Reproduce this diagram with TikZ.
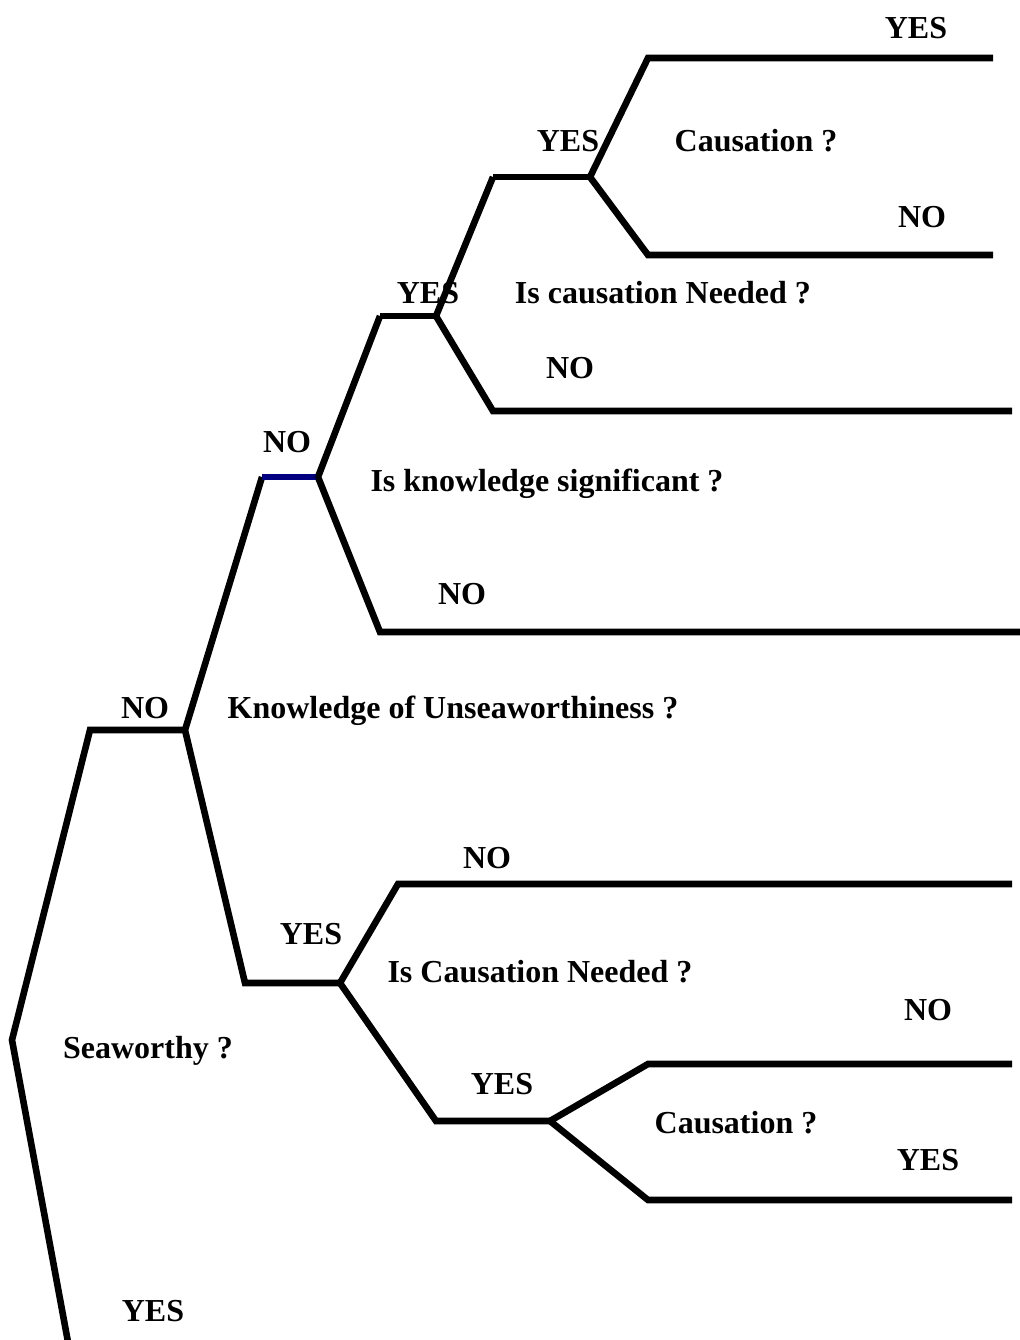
\documentclass[tikz,border=0pt]{standalone}
\usepackage{fontspec}
\setmainfont{Liberation Serif}
\usetikzlibrary{positioning}

\begin{document}
\begin{tikzpicture}[x=0.5pt,y=-0.5pt]
		\tikzset{
			branch/.style={line width=3.3pt, line cap=butt},
			lbl/.style={inner sep=0pt, text height=0.66em, text depth=0pt, yshift=-2pt},
			every node/.style={font=\fontsize{16}{18}\selectfont\bfseries}
		}
		\definecolor{navyline}{RGB}{0,0,128}
		\useasboundingbox (0,0) rectangle (1020,1340);
		
		% Branch points
		\coordinate (sea) at (12,1040);
		\coordinate (seaYes) at (68,1342);
		\coordinate (seaNo) at (90,730);
		\coordinate (know) at (185,730);
		\coordinate (knowNo) at (262,477);
		\coordinate (sig) at (318,477);
		\coordinate (knowYes) at (245,983);
		\coordinate (needB) at (340,983);
		
		% Upper part
		\coordinate (sigNo) at (380,632);
		\coordinate (sigNoEnd) at (1020,632);
		\coordinate (sigYes) at (380,316);
		\coordinate (need) at (436,316);
		\coordinate (needNo) at (493,411);
		\coordinate (needNoEnd) at (1012,411);
		\coordinate (needYes) at (493,177);
		\coordinate (caus) at (590,177);
		\coordinate (causYes) at (648,58);
		\coordinate (causYesEnd) at (993,58);
		\coordinate (causNo) at (648,255);
		\coordinate (causNoEnd) at (993,255);
		
		% Lower part
		\coordinate (needBNo) at (398,884);
		\coordinate (needBNoEnd) at (1012,884);
		\coordinate (needBYes) at (436,1121);
		\coordinate (causB) at (550,1121);
		\coordinate (causBNo) at (648,1064);
		\coordinate (causBNoEnd) at (1012,1064);
		\coordinate (causBYes) at (648,1200);
		\coordinate (causBYesEnd) at (1012,1200);
		
		% Draw the tree
		\draw[branch] (seaYes) -- (sea) -- (seaNo) -- (know);
		\draw[branch] (knowNo) -- (know) -- (knowYes) -- (needB);
		\draw[branch, navyline] (knowNo) -- (sig);
		\draw[branch] (sigYes) -- (sig) -- (sigNo) -- (sigNoEnd);
		\draw[branch] (sigYes) -- (need);
		\draw[branch] (needYes) -- (need) -- (needNo) -- (needNoEnd);
		\draw[branch] (needYes) -- (caus);
		\draw[branch] (causYesEnd) -- (causYes) -- (caus) -- (causNo) -- (causNoEnd);
		\draw[branch] (needBNoEnd) -- (needBNo) -- (needB) -- (needBYes) -- (causB);
		\draw[branch] (causBNoEnd) -- (causBNo) -- (causB) -- (causBYes) -- (causBYesEnd);
		
		% Questions
		\node[lbl] (qSea) at (148,1048) {Seaworthy ?};
		\node[lbl] (qKnow) at (453,708) {Knowledge of Unseaworthiness ?};
		\node[lbl] (qSig) at (547,481) {Is knowledge significant ?};
		\node[lbl] (qNeed) at (663,293) {Is causation Needed ?};
		\node[lbl] (qCaus) at (756,141) {Causation ?};
		\node[lbl] (qNeedB) at (540,972) {Is Causation Needed ?};
		\node[lbl] (qCausB) at (736,1123) {Causation ?};
		
		% Answers
		\node[lbl] (aSeaYes) at (153,1311) {YES};
		\node[lbl] (aSeaNo) at (145,708) {NO};
		\node[lbl] (aKnowNo) at (287,442) {NO};
		\node[lbl] (aKnowYes) at (311,934) {YES};
		\node[lbl] (aSigNo) at (462,594) {NO};
		\node[lbl] (aSigYes) at (428,293) {YES};
		\node[lbl] (aNeedNo) at (570,368) {NO};
		\node[lbl] (aNeedYes) at (568,141) {YES};
		\node[lbl] (aCausYes) at (916,28) {YES};
		\node[lbl] (aCausNo) at (922,217) {NO};
		\node[lbl] (aNeedBNo) at (487,858) {NO};
		\node[lbl] (aNeedBYes) at (502,1084) {YES};
		\node[lbl] (aCausBNo) at (928,1010) {NO};
		\node[lbl] (aCausBYes) at (928,1160) {YES};
		
	\end{tikzpicture}
\end{document}
